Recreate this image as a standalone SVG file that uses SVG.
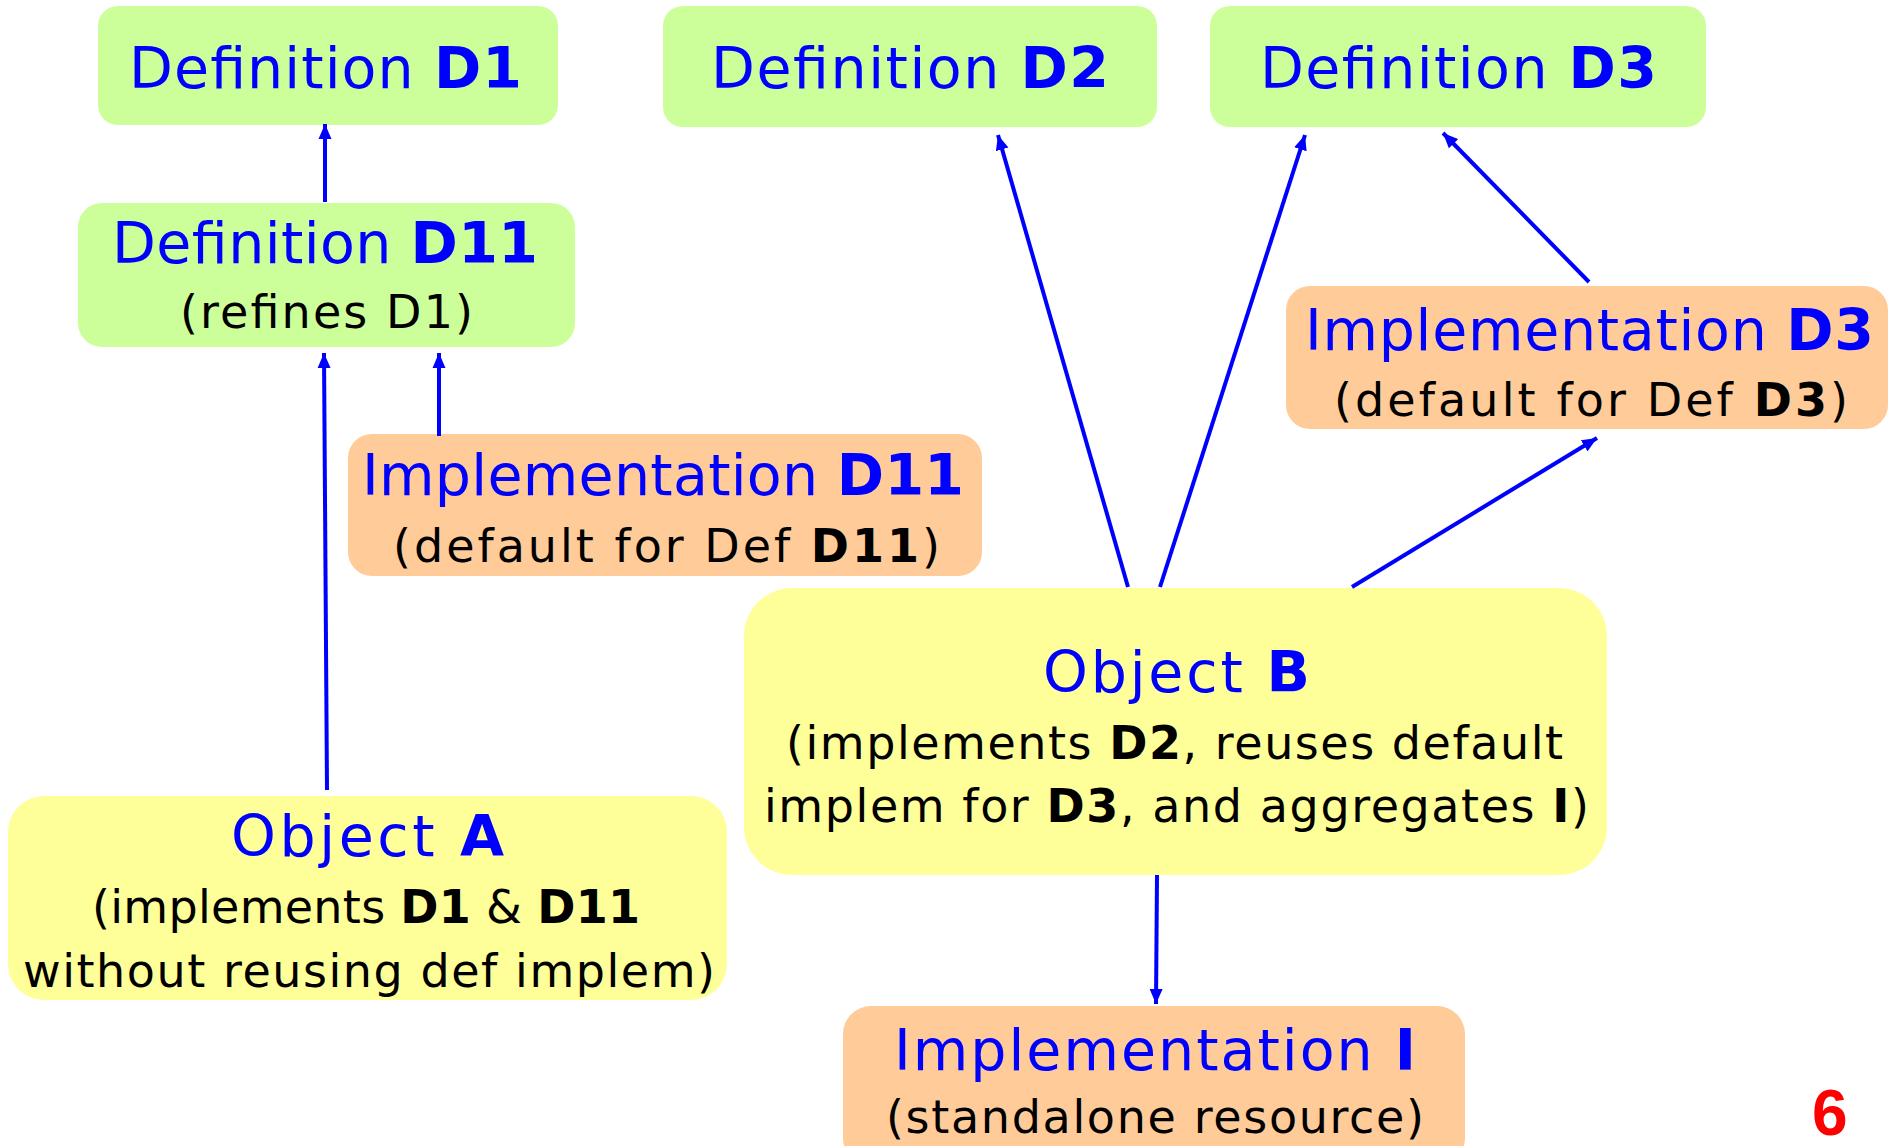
<svg xmlns="http://www.w3.org/2000/svg" width="1890" height="1146" viewBox="0 0 1890 1146">
<defs>
<style>
.def{fill:#CCFF99}
.imp{fill:#FFCC99}
.obj{fill:#FFFF99}
.t{font-family:"DejaVu Sans",sans-serif;font-size:57px;fill:#0000FF}
.s{font-family:"DejaVu Sans",sans-serif;font-size:46px;fill:#000000}
.b{font-weight:bold}
.c line{stroke:#0000FF;stroke-width:4;fill:none;marker-end:url(#ah)}
</style>
<marker id="ah" markerUnits="userSpaceOnUse" markerWidth="16" markerHeight="14" refX="15" refY="7" orient="auto">
<path d="M0,0.5 L15,7 L0,13.5 z" fill="#0000FF"/>
</marker>
</defs>
<rect width="1890" height="1146" fill="#FFFFFF"/>

<g id="D1">
<rect class="def" x="98" y="6" width="460" height="119" rx="20"/>
<text class="t" x="129" y="88" textLength="393">Definition <tspan class="b">D1</tspan></text>
</g>
<g id="D2">
<rect class="def" x="663" y="6" width="494" height="121" rx="20"/>
<text class="t" x="711" y="88" textLength="398">Definition <tspan class="b">D2</tspan></text>
</g>
<g id="D3">
<rect class="def" x="1210" y="6" width="496" height="121" rx="20"/>
<text class="t" x="1260" y="88" textLength="397">Definition <tspan class="b">D3</tspan></text>
</g>
<g id="D11">
<rect class="def" x="78" y="203" width="497" height="144" rx="24"/>
<text class="t" x="112" y="263" textLength="426">Definition <tspan class="b">D11</tspan></text>
<text class="s" x="180" y="328" textLength="293">(refines D1)</text>
</g>
<g id="ImplD11">
<rect class="imp" x="348" y="434" width="634" height="142" rx="24"/>
<text class="t" x="362" y="495" textLength="602">Implementation <tspan class="b">D11</tspan></text>
<text class="s" x="393" y="562" textLength="547">(default for Def <tspan class="b">D11</tspan>)</text>
</g>
<g id="ImplD3">
<rect class="imp" x="1286" y="286" width="602" height="143" rx="24"/>
<text class="t" x="1305" y="350" textLength="569">Implementation <tspan class="b">D3</tspan></text>
<text class="s" x="1334" y="416" textLength="514">(default for Def <tspan class="b">D3</tspan>)</text>
</g>
<g id="ObjectB">
<rect class="obj" x="744" y="588" width="863" height="287" rx="48"/>
<text class="t" x="1043" y="692" textLength="267">Object <tspan class="b">B</tspan></text>
<text class="s" x="786" y="759" textLength="777">(implements <tspan class="b">D2</tspan>, reuses default</text>
<text class="s" x="764" y="822" textLength="825">implem for <tspan class="b">D3</tspan>, and aggregates <tspan class="b">I</tspan>)</text>
</g>
<g id="ObjectA">
<rect class="obj" x="8" y="796" width="719" height="204" rx="36"/>
<text class="t" x="231" y="856" textLength="273">Object <tspan class="b">A</tspan></text>
<text class="s" x="92" y="923" textLength="548">(implements <tspan class="b">D1</tspan> &amp; <tspan class="b">D11</tspan></text>
<text class="s" x="23" y="987" textLength="692">without reusing def implem)</text>
</g>
<g id="ImplI">
<rect class="imp" x="843" y="1006" width="622" height="160" rx="28"/>
<text class="t" x="894" y="1070" textLength="522">Implementation <tspan class="b">I</tspan></text>
<text class="s" x="886" y="1133" textLength="538">(standalone resource)</text>
</g>
<text x="1812" y="1135" font-family="Liberation Sans, sans-serif" font-size="64" font-weight="bold" fill="#FF0000">6</text>

<g id="connectors" class="c">
<line x1="325" y1="202" x2="325" y2="124"/>
<line x1="327" y1="790" x2="324" y2="353"/>
<line x1="439" y1="436" x2="439" y2="353"/>
<line x1="1128" y1="587" x2="998" y2="135"/>
<line x1="1160" y1="587" x2="1305" y2="135"/>
<line x1="1589" y1="282" x2="1443" y2="133"/>
<line x1="1352" y1="587" x2="1597" y2="438"/>
<line x1="1157" y1="875" x2="1156" y2="1004"/>
</g>
</svg>
